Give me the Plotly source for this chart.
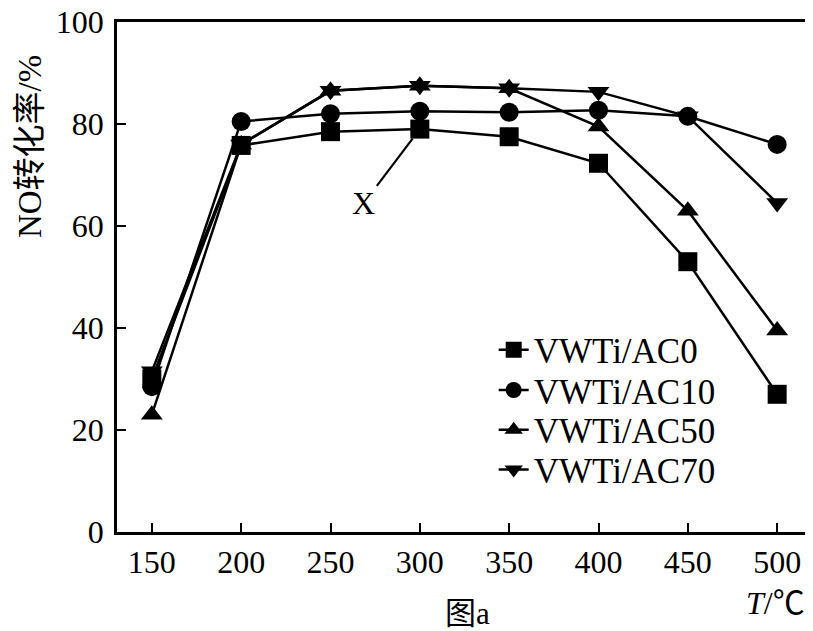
import plotly.graph_objects as go

temps = [150, 200, 250, 300, 350, 400, 450, 500]
ac0 = [30, 75.8, 78.5, 79, 77.5, 72.3, 53, 27]
ac10 = [28.5, 80.5, 82, 82.5, 82.3, 82.7, 81.5, 76]
ac50 = [23, 76, 86.5, 87.5, 87, 79.5, 63, 39.5]
ac70 = [31.5, 76, 86.5, 87.5, 87, 86.3, 81.5, 64.5]
names = ["VWTi/AC0", "VWTi/AC10", "VWTi/AC50", "VWTi/AC70"]
symbols = ["square", "circle", "triangle-up", "triangle-down"]
x_ticks = [150, 200, 250, 300, 350, 400, 450, 500]
y_ticks = [0, 20, 40, 60, 80, 100]

FONT = "Liberation Serif, Times New Roman, Noto Sans CJK SC, serif"
legend_ids = ["legend", "legend2", "legend3", "legend4"]
legend_ys = [0.357, 0.278, 0.200, 0.122]

fig = go.Figure()
for ys, nm, sym, lid in zip([ac0, ac10, ac50, ac70], names, symbols, legend_ids):
    fig.add_trace(go.Scatter(
        x=temps, y=ys, name=nm, mode="lines+markers", legend=lid,
        line=dict(color="black", width=2.5),
        marker=dict(symbol=sym, size=19, color="black"),
    ))

axis_common = dict(
    showline=True, linecolor="black", linewidth=2.5, mirror=True,
    ticks="inside", ticklen=9, tickwidth=2, tickcolor="black",
    showgrid=False, zeroline=False, automargin=False,
    ticklabeloverflow="allow",
    tickfont=dict(family=FONT, size=32, color="black"),
)

fig.update_xaxes(range=[130.5, 519.5], tickvals=x_ticks, **axis_common)
fig.update_yaxes(range=[0, 100], tickvals=y_ticks, ticklabelstandoff=4, **axis_common)

# y-axis title (placed as in the reference, above centre)
fig.add_annotation(xref="paper", yref="paper", x=-0.125, y=0.755, xanchor="center", yanchor="middle",
                   text="NO转化率/%", textangle=-90, showarrow=False,
                   font=dict(family=FONT, size=33, color="black"))

fig.add_annotation(x=300, y=79, ax=-56, ay=74, text="X", showarrow=True,
                   arrowhead=0, arrowwidth=2.2, arrowcolor="black", standoff=12,
                   font=dict(family=FONT, size=32, color="black"))
fig.add_annotation(xref="paper", yref="paper", x=0.993, y=-0.139, xanchor="right", yanchor="middle",
                   text="<i>T</i>/℃", showarrow=False,
                   font=dict(family=FONT, size=32, color="black"))
fig.add_annotation(xref="paper", yref="paper", x=0.505, y=-0.16, xanchor="center", yanchor="middle",
                   text="图a", showarrow=False,
                   font=dict(family=FONT, size=31, color="black"))

legend_style = dict(x=0.542, xanchor="left", yanchor="middle",
                    bgcolor="rgba(0,0,0,0)",
                    font=dict(family=FONT, size=35, color="black"))

fig.update_layout(
    width=805, height=623,
    margin=dict(l=109, r=1, t=14, b=99),
    paper_bgcolor="white", plot_bgcolor="white",
    showlegend=True,
    legend=dict(y=legend_ys[0], **legend_style),
    legend2=dict(y=legend_ys[1], **legend_style),
    legend3=dict(y=legend_ys[2], **legend_style),
    legend4=dict(y=legend_ys[3], **legend_style),
)

fig.write_html("out.html")
